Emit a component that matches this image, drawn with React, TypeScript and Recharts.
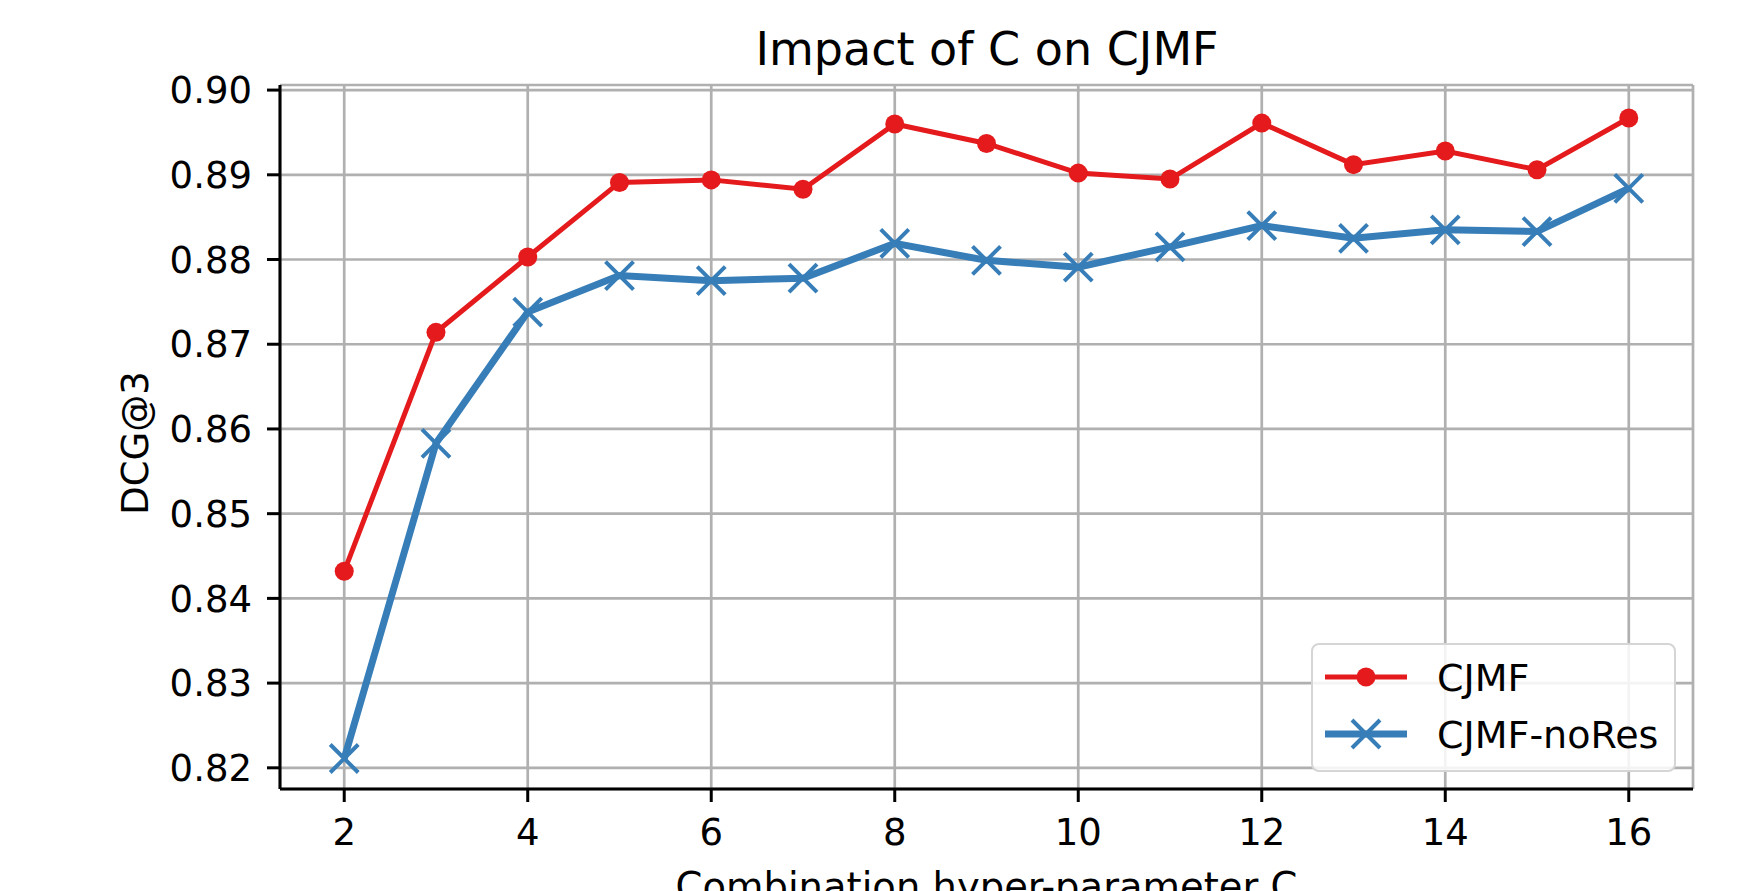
import {
  LineChart,
  Line,
  XAxis,
  YAxis,
  CartesianGrid,
} from "recharts";

const cValues = [2, 3, 4, 5, 6, 7, 8, 9, 10, 11, 12, 13, 14, 15, 16];
const cjmf = [
  0.8432, 0.8714, 0.8803, 0.8891, 0.8894, 0.8883, 0.8960, 0.8937, 0.8902,
  0.8895, 0.8961, 0.8912, 0.8928, 0.8906, 0.8967,
];
const cjmfNoRes = [
  0.8211, 0.8583, 0.8738, 0.8781, 0.8775, 0.8778, 0.8819, 0.8799, 0.8791,
  0.8815, 0.8840, 0.8825, 0.8835, 0.8833, 0.8884,
];
const seriesNames = ["CJMF", "CJMF-noRes"];
const xTicks = [2, 4, 6, 8, 10, 12, 14, 16];
const yTicks = [0.82, 0.83, 0.84, 0.85, 0.86, 0.87, 0.88, 0.89, 0.9];

const RED = "#e41a1c";
const BLUE = "#377eb8";
const FONT = "DejaVu Sans";

const data = cValues.map((c, i) => ({
  c,
  cjmf: cjmf[i],
  noRes: cjmfNoRes[i],
}));

const XMarker = (props: any) => {
  const { cx, cy } = props;
  if (cx == null || cy == null) return null;
  const s = 14;
  return (
    <path
      d={`M${cx - s},${cy - s}L${cx + s},${cy + s}M${cx - s},${cy + s}L${cx + s},${cy - s}`}
      stroke={BLUE}
      strokeWidth={4}
      fill="none"
    />
  );
};

// legend drawn by hand so it does not eat plot space
const LegendBox = () => (
  <div
    style={{
      position: "absolute",
      left: 1311,
      top: 643,
      width: 365,
      height: 129,
      boxSizing: "border-box",
      border: "2px solid #d5d5d5",
      borderRadius: 8,
      background: "rgba(255,255,255,0.85)",
    }}
  >
    <svg width={361} height={125} style={{ display: "block" }}>
      <line x1={12} x2={94} y1={32} y2={32} stroke={RED} strokeWidth={5} />
      <circle cx={53} cy={32} r={9.5} fill={RED} />
      <line x1={12} x2={94} y1={89} y2={89} stroke={BLUE} strokeWidth={7} />
      <XMarker cx={53} cy={89} />
      <text x={124} y={32} dy="0.36em" fontSize={38} fontFamily={FONT}>
        {seriesNames[0]}
      </text>
      <text x={124} y={89} dy="0.36em" fontSize={38} fontFamily={FONT}>
        {seriesNames[1]}
      </text>
    </svg>
  </div>
);

const App = () => {
  return (
    <div
      style={{
        position: "absolute",
        left: 0,
        top: 0,
        width: 1755,
        height: 891,
        background: "#fff",
        overflow: "hidden",
      }}
    >
      <LineChart
        width={1755}
        height={891}
        data={data}
        margin={{ top: 85, right: 62, bottom: 0, left: 0 }}
      >
        <CartesianGrid stroke="#b0b0b0" strokeWidth={2.7} />
        <XAxis
          dataKey="c"
          type="number"
          domain={[1.3, 16.7]}
          ticks={xTicks}
          height={102}
          tickSize={13}
          tickMargin={17}
          stroke="#000"
          tickLine={{ stroke: "#000", strokeWidth: 3 }}
          axisLine={{ stroke: "#000", strokeWidth: 3 }}
          tick={{ fill: "#000", fontSize: 37, fontFamily: FONT }}
          label={{
            value: "Combination hyper-parameter C",
            position: "insideBottom",
            offset: -9,
            fill: "#000",
            fontSize: 38.5,
            fontFamily: FONT,
          }}
        />
        <XAxis
          xAxisId="top"
          orientation="top"
          dataKey="c"
          type="number"
          domain={[1.3, 16.7]}
          height={0}
          tick={false}
          tickLine={false}
          axisLine={{ stroke: "#000", strokeWidth: 3 }}
        />
        <YAxis
          type="number"
          domain={[0.8175, 0.9006]}
          ticks={yTicks}
          width={280}
          tickSize={13}
          tickMargin={15}
          tickFormatter={(v: number) => v.toFixed(2)}
          tickLine={{ stroke: "#000", strokeWidth: 3 }}
          axisLine={{ stroke: "#000", strokeWidth: 3 }}
          tick={{ fill: "#000", fontSize: 37, fontFamily: FONT }}
          allowDataOverflow
        />
        <YAxis
          yAxisId="right"
          orientation="right"
          type="number"
          domain={[0.8175, 0.9006]}
          width={0}
          tick={false}
          tickLine={false}
          axisLine={{ stroke: "#000", strokeWidth: 3 }}
        />
        <Line
          dataKey="cjmf"
          name={seriesNames[0]}
          stroke={RED}
          strokeWidth={5}
          dot={{ r: 9.5, fill: RED, stroke: "none" }}
          activeDot={false}
          isAnimationActive={false}
        />
        <Line
          dataKey="noRes"
          name={seriesNames[1]}
          stroke={BLUE}
          strokeWidth={7}
          dot={<XMarker />}
          activeDot={false}
          isAnimationActive={false}
        />
        <text
          x={987}
          y={65}
          textAnchor="middle"
          fontSize={46}
          fontFamily={FONT}
          fill="#000"
        >
          Impact of C on CJMF
        </text>
        <text
          x={148}
          y={443}
          transform="rotate(-90, 148, 443)"
          textAnchor="middle"
          fontSize={37}
          fontFamily={FONT}
          fill="#000"
        >
          DCG@3
        </text>
      </LineChart>
      <LegendBox />
    </div>
  );
};

export default App;
